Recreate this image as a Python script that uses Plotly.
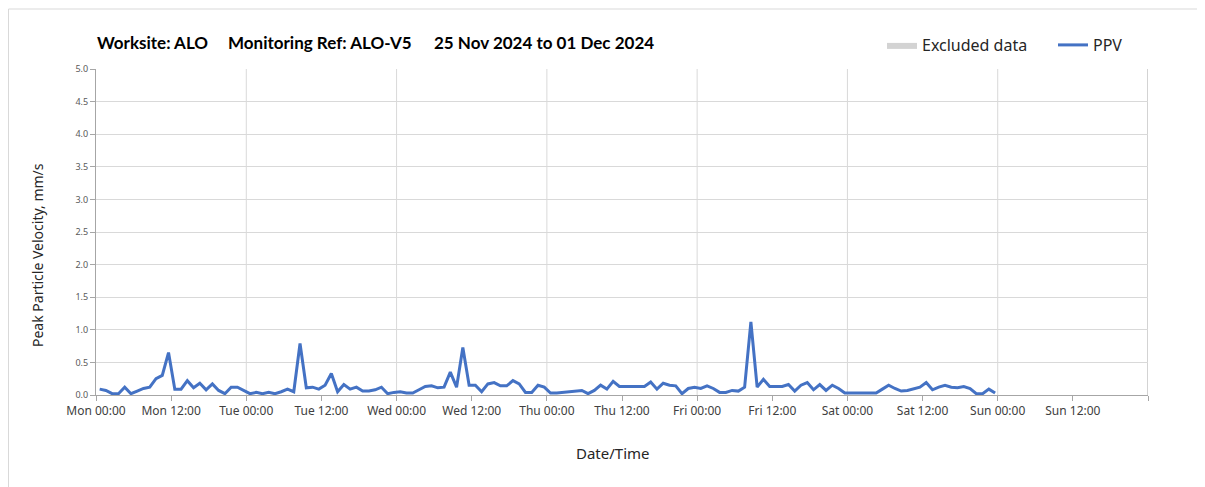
import pandas as pd
import plotly.graph_objects as go

# ---- data (hourly PPV readings, mm/s) ----
start = "2024-11-25 00:35"
mon = [0.09, 0.07, 0.02, 0.02, 0.12, 0.02, 0.06, 0.10, 0.12, 0.25, 0.30, 0.65,
       0.09, 0.09, 0.22, 0.11, 0.18, 0.08, 0.17, 0.07, 0.02, 0.12, 0.12, 0.07]
tue = [0.02, 0.04, 0.02, 0.04, 0.02, 0.05, 0.09, 0.05, 0.79, 0.11, 0.12, 0.09,
       0.15, 0.33, 0.05, 0.16, 0.09, 0.12, 0.06, 0.06, 0.08, 0.12, 0.02, 0.04]
wed = [0.05, 0.03, 0.03, 0.08, 0.13, 0.14, 0.11, 0.12, 0.35, 0.12, 0.73, 0.15,
       0.15, 0.05, 0.17, 0.19, 0.14, 0.14, 0.22, 0.17, 0.04, 0.04, 0.15, 0.12]
thu = [0.03, 0.03, 0.04, 0.04, 0.06, 0.07, 0.02, 0.07, 0.15, 0.09, 0.21, 0.13,
       0.13, 0.13, 0.14, 0.13, 0.20, 0.09, 0.18, 0.15, 0.14, 0.02, 0.10, 0.12]
fri = [0.10, 0.14, 0.10, 0.04, 0.04, 0.07, 0.06, 0.12, 1.12, 0.12, 0.24, 0.13,
       0.13, 0.13, 0.16, 0.06, 0.15, 0.19, 0.08, 0.16, 0.07, 0.15, 0.10, 0.03]
sat = [0.03, 0.03, 0.03, 0.03, 0.03, 0.09, 0.15, 0.10, 0.06, 0.07, 0.10, 0.12,
       0.19, 0.08, 0.12, 0.15, 0.12, 0.11, 0.13, 0.10, 0.02, 0.02, 0.09, 0.03]

ppv = mon + tue + wed + thu + fri + sat
times = pd.date_range(start, periods=len(ppv), freq="1h")

x_start = "2024-11-25 00:00"
x_end = "2024-12-02 00:00"
tick_times = pd.date_range(x_start, x_end, freq="12h")
tick_text = [t.strftime("%a %H:%M") for t in tick_times[:-1]] + [""]
day_lines = pd.date_range(x_start, x_end, freq="24h")[1:]

title_parts = ["Worksite: ALO", "Monitoring Ref: ALO-V5", "25 Nov 2024 to 01 Dec 2024"]

# ---- figure (page has an 8px body margin) ----
OFF = 8
W, H = 1205 - OFF, 487 - OFF
plot_l, plot_r, plot_t, plot_b = 96, 1148, 69, 395   # page pixel positions
L = plot_l - OFF
T = plot_t - OFF
R = W - (plot_r - OFF)
B = H - (plot_b - OFF)
pw, ph = plot_r - plot_l, plot_b - plot_t

def px_x(p):
    return (p - plot_l) / pw

def px_y(p):
    return (plot_b - p) / ph

fig = go.Figure()
fig.add_trace(go.Scatter(
    x=[None], y=[None], mode="lines", fill="toself",
    fillcolor="#D3D3D3", line=dict(width=0, color="#D3D3D3"),
    name="Excluded data", hoverinfo="skip", legend="legend"))
fig.add_trace(go.Scatter(
    x=times, y=ppv, mode="lines", name="PPV",
    line=dict(color="#4472C4", width=3), legend="legend2"))

shapes = []
for d in day_lines:
    shapes.append(dict(type="line", xref="x", yref="paper", x0=d, x1=d, y0=0, y1=1,
                       line=dict(color="#A6A6A6" if d == day_lines[-1] else "#D9D9D9", width=1),
                       layer="below"))
shapes.append(dict(type="rect", xref="paper", yref="paper",
                   x0=px_x(8.5), x1=px_x(1215), y0=px_y(497), y1=px_y(9),
                   line=dict(color="#D9D9D9", width=1), fillcolor="rgba(0,0,0,0)", layer="below"))

title_x = [95, 226, 432]
annotations = []
for txt, xp in zip(title_parts, title_x):
    annotations.append(dict(text="<b>" + txt + "</b>", xref="paper", yref="paper",
                            x=px_x(xp), y=px_y(42), xanchor="left", yanchor="middle",
                            showarrow=False, font=dict(family="Lato", size=17, color="#000000")))
annotations.append(dict(text="Peak Particle Velocity, mm/s", xref="paper", yref="paper",
                        x=px_x(37), y=px_y(255), xanchor="center", yanchor="middle",
                        textangle=-90, showarrow=False,
                        font=dict(family="Noto Sans", size=14, color="#262626")))
annotations.append(dict(text="Date/Time", xref="paper", yref="paper",
                        x=px_x(613), y=px_y(453), xanchor="center", yanchor="middle",
                        showarrow=False, font=dict(family="Noto Sans", size=15, color="#262626")))

legend_font = dict(family="Noto Sans", size=16, color="#262626")
fig.update_layout(
    width=W, height=H,
    margin=dict(l=L, r=R, t=T, b=B),
    paper_bgcolor="white", plot_bgcolor="white",
    showlegend=True,
    legend=dict(orientation="h", x=px_x(882), y=px_y(45), xanchor="left", yanchor="middle",
                font=legend_font, bgcolor="rgba(0,0,0,0)", itemwidth=30),
    legend2=dict(orientation="h", x=px_x(1053), y=px_y(45), xanchor="left", yanchor="middle",
                 font=legend_font, bgcolor="rgba(0,0,0,0)", itemwidth=30),
    shapes=shapes,
    annotations=annotations,
    xaxis=dict(type="date", range=[x_start, x_end], tickmode="array",
               tickvals=tick_times, ticktext=tick_text, showgrid=False,
               ticks="outside", ticklen=5, tickcolor="#A6A6A6",
               showline=True, linecolor="#A6A6A6", linewidth=1,
               tickfont=dict(family="Noto Sans", size=12, color="#404040"),
               zeroline=False),
    yaxis=dict(range=[0, 5], dtick=0.5, tick0=0, tickformat=".1f",
               showgrid=True, gridcolor="#D9D9D9", gridwidth=1,
               ticks="outside", ticklen=5, tickcolor="#A6A6A6",
               showline=True, linecolor="#A6A6A6", linewidth=1,
               tickfont=dict(family="Noto Sans", size=9, color="#595959"),
               zeroline=False),
)

fig.write_html("out.html")
